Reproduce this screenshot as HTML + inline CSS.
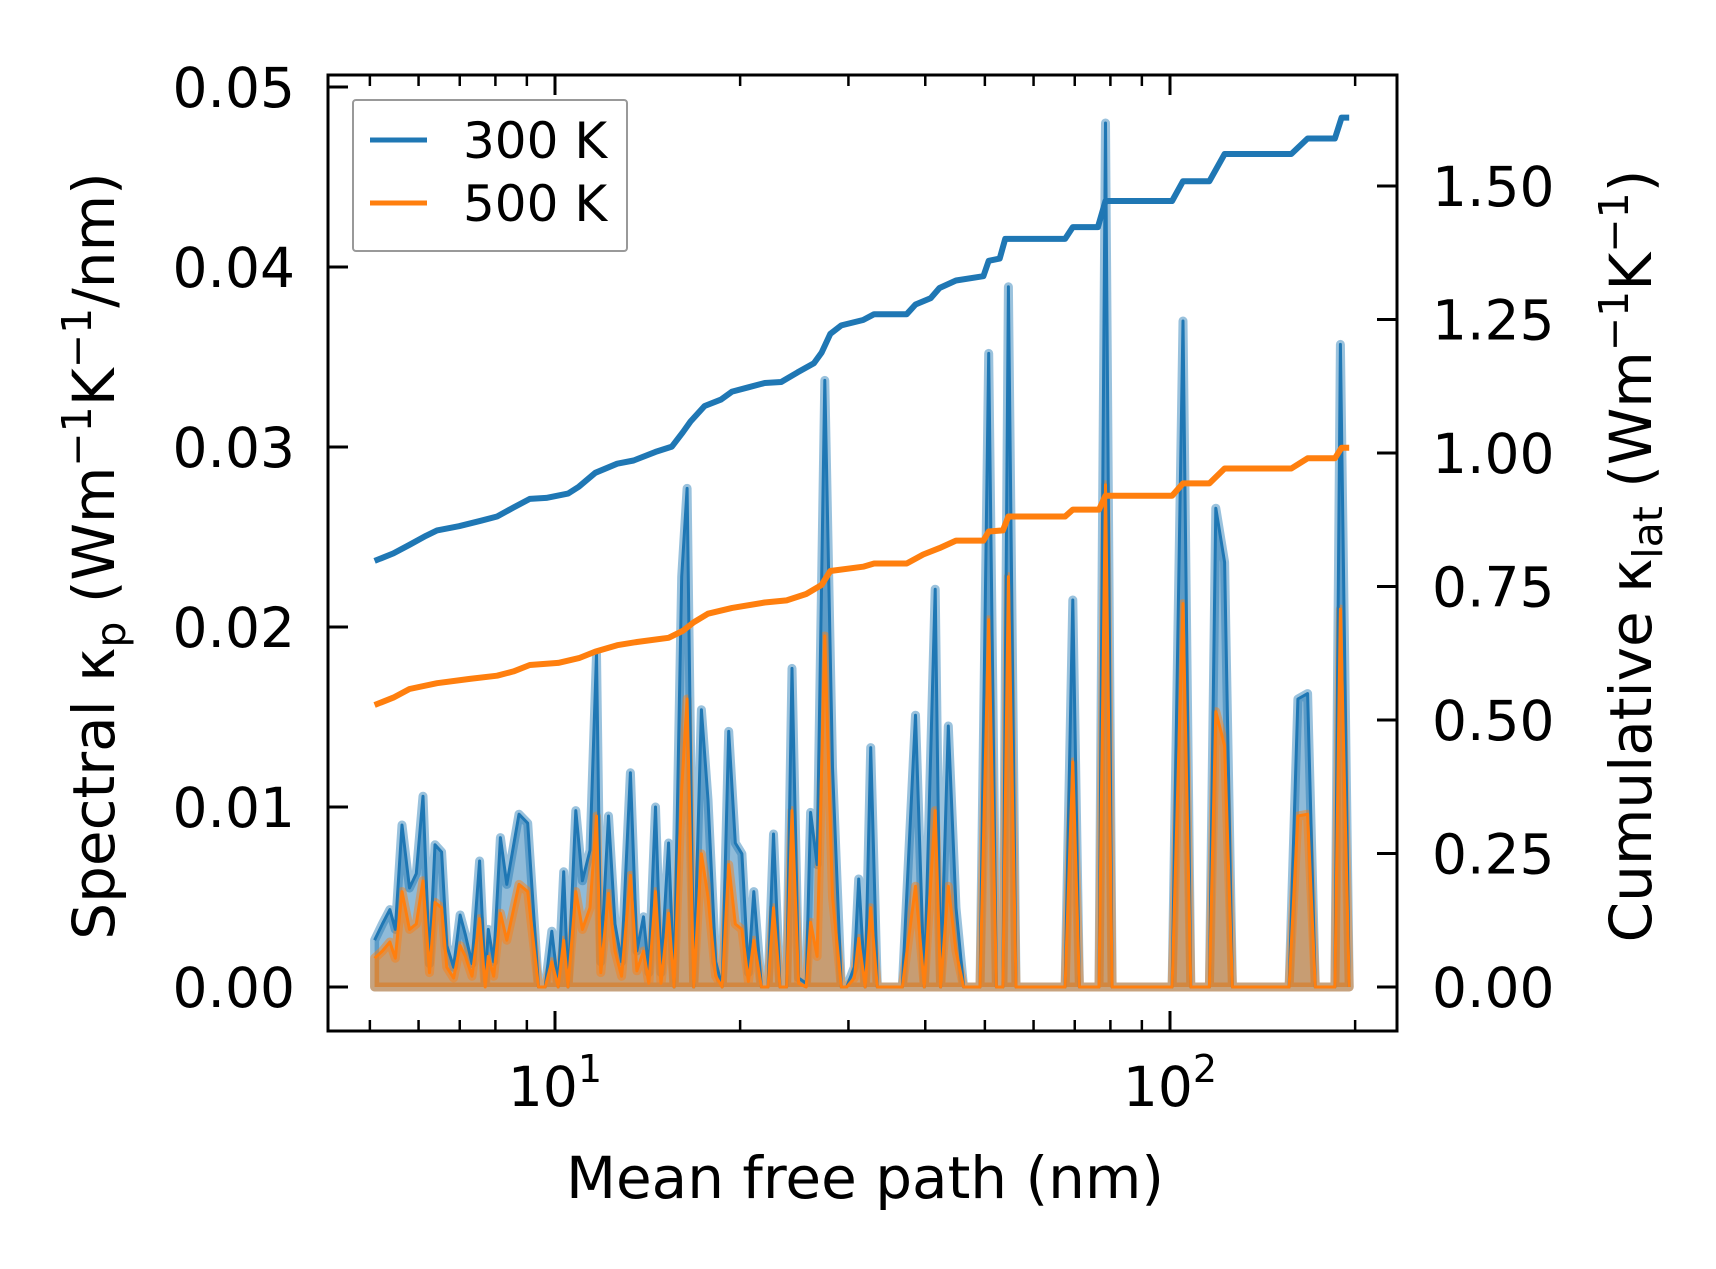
<!DOCTYPE html>
<html>
<head>
<meta charset="utf-8">
<style>
html,body{margin:0;padding:0;background:#fff;}
svg{display:block;}
text{font-family:"DejaVu Sans","Liberation Sans",sans-serif;fill:#000;}
</style>
</head>
<body>
<svg id="chart" width="1716" height="1269" viewBox="0 0 1716 1269" xmlns="http://www.w3.org/2000/svg">
  <rect x="0" y="0" width="1716" height="1269" fill="#fff"/>
  <g id="plot"></g>
  <g id="axes"></g>
  <text x="865" y="1198" font-size="58" text-anchor="middle">Mean free path (nm)</text>
  <text transform="translate(114,556) rotate(-90)" font-size="58" text-anchor="middle">Spectral κ<tspan font-size="41" dy="11">p</tspan><tspan dy="-11"> (Wm</tspan><tspan font-size="41" dy="-23">−1</tspan><tspan dy="23">K</tspan><tspan font-size="41" dy="-23">−1</tspan><tspan dy="23">/nm)</tspan></text>
  <text transform="translate(1651,556) rotate(-90)" font-size="58" text-anchor="middle">Cumulative κ<tspan font-size="41" dy="11">lat</tspan><tspan dy="-11"> (Wm</tspan><tspan font-size="41" dy="-23">−1</tspan><tspan dy="23">K</tspan><tspan font-size="41" dy="-23">−1</tspan><tspan dy="23">)</tspan></text>
  <g>
    <rect x="353" y="100" width="274" height="151" fill="#fff" fill-opacity="0.8" stroke="#999" stroke-width="2" rx="3"/>
    <line x1="370" y1="140" x2="427" y2="140" stroke="#1f77b4" stroke-width="5"/>
    <text x="463" y="158" font-size="50">300 K</text>
    <line x1="370" y1="203" x2="427" y2="203" stroke="#ff7f0e" stroke-width="5"/>
    <text x="463" y="221" font-size="50">500 K</text>
  </g>
</svg>
<script>
// ---- spectral data (shared MFP grid, nm) ----
const specMfp = [5.09,5.24,5.39,5.50,5.64,5.80,5.95,6.10,6.25,6.38,6.54,6.67,6.84,7.01,7.15,7.33,7.54,7.70,7.79,7.95,8.15,8.35,8.74,9.03,9.40,9.64,9.88,10.12,10.33,10.50,10.81,11.08,11.40,11.68,11.87,12.22,12.52,12.83,13.26,13.59,13.93,14.21,14.57,14.87,15.30,15.62,16.07,16.40,16.81,17.30,17.73,18.25,18.70,19.16,19.64,20.13,20.63,21.05,21.66,22.20,22.66,23.22,23.80,24.29,24.89,25.61,26.04,26.68,27.46,28.26,29.21,29.81,30.67,31.18,31.95,32.61,33.42,34.12,36.71,38.56,39.85,41.51,42.37,43.61,44.87,46.17,49.09,50.73,52.20,53.50,54.60,56.18,67.53,69.49,71.22,76.66,78.56,80.51,100.8,105.0,108.1,115.9,118.7,122.7,126.3,156.2,161.4,167.4,172.3,185.4,189.3,195.6];
const spec300 = [0.0026,0.0035,0.0043,0.0032,0.0090,0.0055,0.0063,0.0106,0.0013,0.0079,0.0075,0.0023,0.0011,0.0040,0.0029,0.0013,0.0070,0.0003,0.0032,0.0014,0.0083,0.0057,0.0096,0.0091,0,0,0.0031,0,0.0064,0,0.0098,0.0059,0.0076,0.0185,0.0014,0.0095,0.0035,0.0014,0.0119,0.0020,0.0039,0.0008,0.0100,0.0008,0.0080,0,0.0228,0.0277,0,0.0154,0.0104,0.0014,0,0.0142,0.0080,0.0074,0.0008,0.0053,0,0,0.0085,0,0,0.0177,0.0005,0.0002,0.0097,0.0068,0.0337,0.0122,0,0,0.0011,0.0060,0,0.0133,0,0,0,0.0151,0,0.0221,0,0.0145,0.0044,0,0,0.0352,0,0,0.0389,0,0,0.0215,0,0,0.0480,0,0,0.0370,0,0,0.0266,0.0236,0,0,0.0160,0.0163,0,0,0.0357,0];
const spec500 = [0.0016,0.0020,0.0025,0.0016,0.0053,0.0032,0.0035,0.0059,0.0008,0.0047,0.0044,0.0011,0.0005,0.0023,0.0017,0.0006,0.0038,0,0.0017,0.0006,0.0041,0.0026,0.0057,0.0053,0,0,0.0014,0,0.0026,0,0.0053,0.0032,0.0044,0.0095,0.0008,0.0052,0.0020,0.0006,0.0062,0.0009,0.0020,0.0002,0.0053,0.0002,0.0041,0,0.0110,0.0160,0,0.0074,0.0050,0.0006,0,0.0068,0.0035,0.0032,0.0003,0.0026,0,0,0.0044,0,0,0.0098,0.0002,0,0.0036,0.0017,0.0195,0.0050,0,0,0.0005,0.0027,0,0.0044,0,0,0,0.0056,0,0.0098,0,0.0056,0.0020,0,0,0.0204,0,0,0.0228,0,0,0.0125,0,0,0.0279,0,0,0.0213,0,0,0.0153,0.0134,0,0,0.0095,0.0096,0,0,0.0210,0];
// ---- cumulative data ----
const cum300Mfp = [5.09,5.46,5.80,6.17,6.43,6.98,7.57,8.05,8.56,9.10,9.68,10.50,10.94,11.63,12.62,13.42,14.57,15.49,16.14,16.61,17.51,18.62,19.41,20.63,21.93,23.32,24.79,26.36,27.13,28.03,29.21,31.69,33.03,37.32,38.56,40.83,42.19,44.87,49.72,50.73,52.86,53.95,67.53,69.49,76.35,78.56,100.8,105.0,115.9,122.7,157.5,167.4,185.4,190.1,195.6];
const cum300 = [0.798,0.812,0.828,0.845,0.855,0.863,0.873,0.881,0.898,0.914,0.916,0.924,0.937,0.963,0.980,0.986,1.002,1.012,1.039,1.059,1.088,1.100,1.115,1.123,1.131,1.133,1.151,1.168,1.188,1.223,1.239,1.249,1.260,1.260,1.278,1.290,1.309,1.323,1.331,1.360,1.364,1.401,1.401,1.423,1.423,1.472,1.472,1.509,1.509,1.560,1.560,1.589,1.589,1.628,1.628];
const cum500Mfp = [5.09,5.46,5.80,6.43,7.27,8.05,8.56,9.10,10.12,10.94,11.63,12.62,13.59,15.30,16.14,16.81,17.73,19.41,21.93,23.80,25.61,27.13,28.03,31.69,33.03,37.32,39.69,42.19,44.87,49.72,50.73,53.50,54.60,67.53,69.49,76.66,78.56,100.8,105.0,115.9,122.7,157.5,167.4,185.4,190.1,195.6];
const cum500 = [0.528,0.542,0.558,0.569,0.577,0.583,0.591,0.603,0.607,0.616,0.628,0.640,0.646,0.654,0.667,0.683,0.699,0.710,0.720,0.724,0.736,0.753,0.779,0.787,0.793,0.793,0.810,0.822,0.836,0.836,0.853,0.855,0.881,0.881,0.894,0.894,0.920,0.920,0.943,0.943,0.971,0.971,0.990,0.990,1.010,1.010];
// ---- ticks ----
const leftTicks = [0,0.01,0.02,0.03,0.04,0.05];
const leftTickLabels = ["0.00","0.01","0.02","0.03","0.04","0.05"];
const rightTicks = [0,0.25,0.5,0.75,1.0,1.25,1.5];
const rightTickLabels = ["0.00","0.25","0.50","0.75","1.00","1.25","1.50"];
const xMajorTicks = [10,100];
const xMajorExp = ["1","2"];
const xMinorTicks = [5,6,7,8,9,20,30,40,50,60,70,80,90,200];

const L=328,R=1397,T=75,B=1031;
function xs(m){return 555+615*Math.log10(m/10);}
function yl(v){return 987-v*18000;}
function yr(v){return 987-v*534;}
const NS="http://www.w3.org/2000/svg";
function mk(tag,attrs,parent){const e=document.createElementNS(NS,tag);for(const k in attrs)e.setAttribute(k,attrs[k]);parent.appendChild(e);return e;}
const plot=document.getElementById('plot');
const axes=document.getElementById('axes');

function pts(xa,ya,yf){return xa.map((m,i)=>xs(m).toFixed(1)+','+yf(ya[i]).toFixed(1)).join(' ');}
function fillPts(xa,ya){return pts(xa,ya,yl)+' '+xs(xa[xa.length-1]).toFixed(1)+','+yl(0)+' '+xs(xa[0]).toFixed(1)+','+yl(0);}

let e;
e=mk('polygon',{points:fillPts(specMfp,spec300),fill:'#1f77b4','fill-opacity':0.5,stroke:'#1f77b4','stroke-opacity':0.45,'stroke-width':9,'stroke-linejoin':'round'},plot);


e=mk('polygon',{points:fillPts(specMfp,spec500),fill:'#ff7f0e','fill-opacity':0.5,stroke:'#ff7f0e','stroke-opacity':0.45,'stroke-width':9,'stroke-linejoin':'round'},plot);


e=mk('polyline',{points:pts(specMfp,spec300,yl),fill:'none',stroke:'#1f77b4','stroke-width':3,'stroke-linejoin':'round'},plot);


e=mk('polyline',{points:pts(specMfp,spec500,yl),fill:'none',stroke:'#ff7f0e','stroke-width':3,'stroke-linejoin':'round'},plot);


e=mk('polyline',{points:pts(cum300Mfp,cum300,yr),fill:'none',stroke:'#1f77b4','stroke-width':6,'stroke-linejoin':'round'},plot);


e=mk('polyline',{points:pts(cum500Mfp,cum500,yr),fill:'none',stroke:'#ff7f0e','stroke-width':6,'stroke-linejoin':'round'},plot);



// frame
e=mk('rect',{x:L,y:T,width:R-L,height:B-T,fill:'none',stroke:'#000','stroke-width':3},axes);



leftTicks.forEach((v,i)=>{
  const y=yl(v);
  const t=mk('line',{x1:L,y1:y,x2:L+20,y2:y,stroke:'#000','stroke-width':3},axes);
  
  
  const lb=mk('text',{x:295,y:y+20,'font-size':55,'text-anchor':'end'},axes);
  lb.textContent=leftTickLabels[i];
  
  
});
rightTicks.forEach((v,i)=>{
  const y=yr(v);
  const t=mk('line',{x1:R-20,y1:y,x2:R,y2:y,stroke:'#000','stroke-width':3},axes);
  
  
  const lb=mk('text',{x:1432,y:y+20,'font-size':55},axes);
  lb.textContent=rightTickLabels[i];
  
  
});
xMajorTicks.forEach((m,i)=>{
  const x=xs(m);
  [[B,B-20],[T,T+20]].forEach(p=>{
    const t=mk('line',{x1:x,y1:p[0],x2:x,y2:p[1],stroke:'#000','stroke-width':3},axes);
    
    
  });
  const lb=mk('text',{x:x,y:1106,'font-size':55,'text-anchor':'middle'},axes);
  
  
  lb.appendChild(document.createTextNode('10'));
  const s=mk('tspan',{'font-size':38,dy:-24},lb);
  s.textContent=xMajorExp[i];
});
xMinorTicks.forEach(m=>{
  const x=xs(m);
  [[B,B-11],[T,T+11]].forEach(p=>{
    const t=mk('line',{x1:x,y1:p[0],x2:x,y2:p[1],stroke:'#000','stroke-width':2.5},axes);
    
    
  });
});
</script>
</body>
</html>
